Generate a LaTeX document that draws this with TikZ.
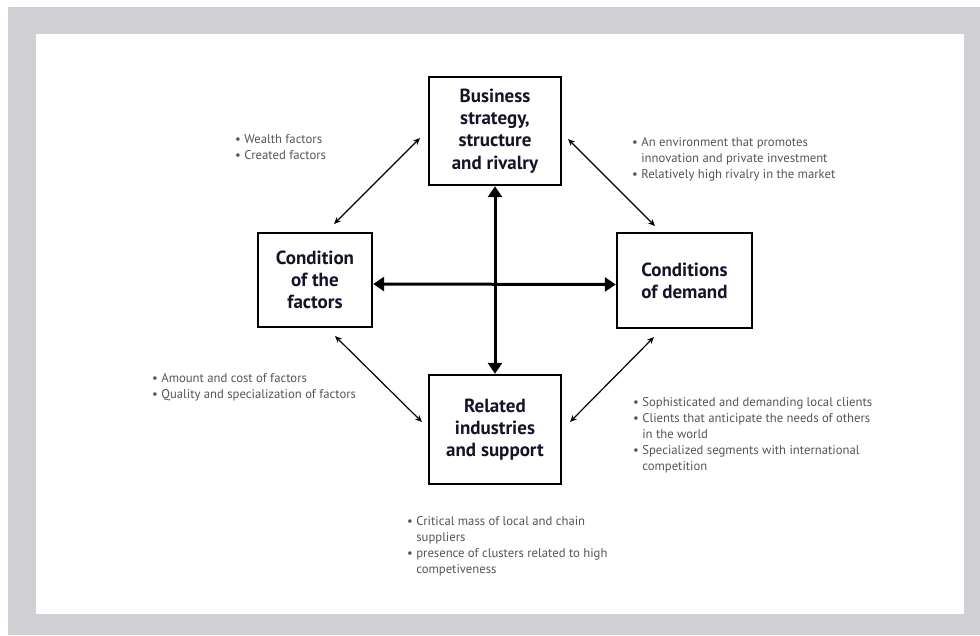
\documentclass[tikz,border=0pt]{standalone}
\usepackage{fontspec}
\setmainfont{PT Sans}
\usetikzlibrary{arrows.meta}

\definecolor{framegray}{HTML}{CFCFD4}
\definecolor{notegray}{HTML}{555558}
\definecolor{titleink}{HTML}{141428}

\tikzset{
    factor/.style={draw, line width=2.4pt, fill=white, align=center, text=titleink,
        font=\bfseries\fontsize{19}{22.3}\selectfont},
    note/.style={anchor=base west, align=left, inner sep=0pt, text=notegray,
        font=\fontsize{12.7}{15.8}\selectfont},
    bigarrow/.style={line width=3pt, {Triangle[length=11pt,width=14pt]}-{Triangle[length=11pt,width=14pt]}},
    smallarrow/.style={line width=1.2pt, {Stealth[length=7pt,width=6pt]}-{Stealth[length=7pt,width=6pt]}},
}

\begin{document}
\begin{tikzpicture}[x=1pt,y=-1pt]
    \useasboundingbox (0,0) rectangle (980,635);
    \fill[framegray] (8,7) rectangle (980,635);
    \fill[white] (36,34) rectangle (964,614);

    % the four boxes
    \node[factor, minimum width=132pt, minimum height=108pt] (strategy) at (495,131)
        {Business\\strategy,\\structure\\and rivalry};
    \node[factor, minimum width=114pt, minimum height=94pt] (factors) at (315,280)
        {Condition\\of the\\factors};
    \node[factor, minimum width=135pt, minimum height=95pt] (demand) at (684.5,280.5)
        {Conditions\\of demand};
    \node[factor, minimum width=132pt, minimum height=109pt] (support) at (495,429.5)
        {Related\\industries\\and support};

    % notes (placed by the baseline of their last line)
    \node[note] (wealth) at (235,159) {• Wealth factors\\• Created factors};
    \node[note] (rivalry) at (632,178) {• An environment that promotes\\\hphantom{• }innovation and private investment\\• Relatively high rivalry in the market};
    \node[note] (amount) at (152,398) {• Amount and cost of factors\\• Quality and specialization of factors};
    \node[note] (clients) at (633,470) {• Sophisticated and demanding local clients\\• Clients that anticipate the needs of others\\\hphantom{• }in the world\\• Specialized segments with international\\\hphantom{• }competition};
    \node[note] (suppliers) at (407,573) {• Critical mass of local and chain\\\hphantom{• }suppliers\\• presence of clusters related to high\\\hphantom{• }competiveness};

    % thick cross
    \draw[bigarrow] ([yshift=-4pt]factors.east) -- ([yshift=-4pt]demand.west);
    \draw[bigarrow] (strategy.south) -- (support.north);

    % diagonal links
    \coordinate (TL1) at (334,224);
    \coordinate (TL2) at (420,138);
    \coordinate (TR1) at (568,139);
    \coordinate (TR2) at (655,226);
    \coordinate (BL1) at (335,336);
    \coordinate (BL2) at (422,422);
    \coordinate (BR1) at (654,337);
    \coordinate (BR2) at (570,422);
    \draw[smallarrow] (TL1) -- (TL2); % factors - strategy
    \draw[smallarrow] (TR1) -- (TR2); % strategy - demand
    \draw[smallarrow] (BL1) -- (BL2); % factors - support
    \draw[smallarrow] (BR1) -- (BR2); % demand - support
\end{tikzpicture}
\end{document}
